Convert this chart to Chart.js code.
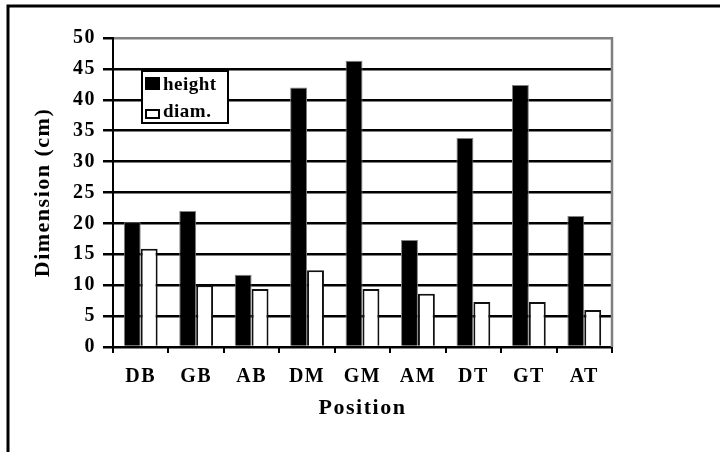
<!DOCTYPE html>
<html>
<head>
<meta charset="utf-8">
<title>Dimension by position</title>
<script src="https://cdn.jsdelivr.net/npm/chart.js@4/dist/chart.umd.min.js"></script>
<style>
  html, body { margin: 0; padding: 0; background: #fff; }
  canvas { display: block; }
</style>
</head>
<body>
<canvas id="chart" width="720" height="452"></canvas>
<script>
// Sampling positions along the stem
const positions = ['DB', 'GB', 'AB', 'DM', 'GM', 'AM', 'DT', 'GT', 'AT'];

// Measured dimensions (cm)
const heightCm = [20.2, 22.0, 11.7, 42.0, 46.3, 17.3, 33.8, 42.4, 21.2];
const diamCm   = [15.9, 10.0, 9.4, 12.4, 9.4, 8.6, 7.3, 7.3, 6.0];

// Value axis tick labels
const yTickValues = [0, 5, 10, 15, 20, 25, 30, 35, 40, 45, 50];

const SERIF = '"Liberation Serif", "Times New Roman", serif';

// Page frame, plot outline, spaced lettering and the inset legend
const framePlugin = {
  id: 'frame',
  beforeUpdate(chart) {
    chart.ctx.letterSpacing = '1.5px';
  },
  beforeDraw(chart) {
    const ctx = chart.ctx;
    ctx.letterSpacing = '1.5px';
    ctx.save();
    ctx.fillStyle = '#fff';
    ctx.fillRect(0, 0, chart.width, chart.height);
    ctx.strokeStyle = '#000';
    ctx.lineWidth = 3;
    ctx.beginPath();
    ctx.moveTo(8, chart.height + 2);
    ctx.lineTo(8, 6);
    ctx.lineTo(chart.width + 2, 6);
    ctx.stroke();
    ctx.restore();
  },
  afterDatasetsDraw(chart) {
    const ctx = chart.ctx;
    const a = chart.chartArea;
    ctx.save();
    ctx.strokeStyle = '#808080';
    ctx.lineWidth = 2.5;
    ctx.beginPath();
    ctx.moveTo(a.right, a.top - 1);
    ctx.lineTo(a.right, a.bottom);
    ctx.stroke();
    ctx.restore();
  },
  afterDraw(chart) {
    const ctx = chart.ctx;
    const a = chart.chartArea;
    const bx = a.left + 29, by = a.top + 33, bw = 86, bh = 52;
    ctx.save();
    ctx.fillStyle = '#fff';
    ctx.fillRect(bx, by, bw, bh);
    ctx.strokeStyle = '#000';
    ctx.lineWidth = 2;
    ctx.strokeRect(bx, by, bw, bh);
    ctx.font = 'bold 19px ' + SERIF;
    ctx.letterSpacing = '0.5px';
    ctx.textBaseline = 'alphabetic';
    ctx.textAlign = 'left';
    const ds = chart.data.datasets;
    // first entry: filled square
    ctx.fillStyle = ds[0].backgroundColor;
    ctx.fillRect(bx + 3, by + 6, 15, 13);
    ctx.fillStyle = '#000';
    ctx.fillText(ds[0].label, bx + 21, by + 19);
    // second entry: open box
    ctx.fillStyle = ds[1].backgroundColor;
    ctx.fillRect(bx + 4, by + 39, 13, 8);
    ctx.strokeStyle = '#000';
    ctx.lineWidth = 2;
    ctx.strokeRect(bx + 4, by + 39, 13, 8);
    ctx.fillStyle = '#000';
    ctx.fillText(ds[1].label, bx + 21, by + 46);
    ctx.restore();
  }
};

new Chart(document.getElementById('chart'), {
  type: 'bar',
  data: {
    labels: positions,
    datasets: [
      {
        label: 'height',
        data: heightCm,
        backgroundColor: '#000',
        borderColor: '#808080',
        borderWidth: 1
      },
      {
        label: 'diam.',
        data: diamCm,
        backgroundColor: '#fff',
        borderColor: '#111',
        borderWidth: 2
      }
    ]
  },
  options: {
    responsive: false,
    animation: false,
    devicePixelRatio: 1,
    events: [],
    layout: { padding: { left: 0, top: 38, right: 108, bottom: 0 } },
    datasets: {
      bar: { categoryPercentage: 0.61, barPercentage: 1.0 }
    },
    plugins: {
      legend: { display: false },
      tooltip: { enabled: false }
    },
    scales: {
      x: {
        offset: true,
        afterFit(scale) { scale.height = 105; },
        grid: {
          display: true,
          offset: true,
          drawOnChartArea: false,
          drawTicks: true,
          tickLength: 6,
          color: '#000',
          tickColor: '#000',
          lineWidth: 2
        },
        border: { display: true, color: '#000', width: 2 },
        ticks: {
          autoSkip: false,
          maxRotation: 0,
          padding: 12,
          color: '#000',
          font: { family: SERIF, size: 20, weight: 'bold' }
        },
        title: {
          display: true,
          text: 'Position',
          color: '#000',
          font: { family: SERIF, size: 22, weight: 'bold', lineHeight: 1.2 },
          padding: { top: 0, bottom: 30 }
        }
      },
      y: {
        min: yTickValues[0],
        max: yTickValues[yTickValues.length - 1],
        afterFit(scale) { scale.width = 113; },
        afterBuildTicks(scale) {
          scale.ticks = yTickValues.map(v => ({ value: v }));
        },
        grid: {
          color: ctx => (ctx.tick && ctx.tick.value === yTickValues[yTickValues.length - 1]) ? '#808080' : '#000',
          tickColor: '#000',
          lineWidth: 2.5,
          tickLength: 10,
          drawTicks: true
        },
        border: { display: true, color: '#000', width: 2 },
        ticks: {
          padding: 7,
          color: '#000',
          font: { family: SERIF, size: 20, weight: 'bold' }
        },
        title: {
          display: true,
          text: 'Dimension (cm)',
          color: '#000',
          font: { family: SERIF, size: 22, weight: 'bold', lineHeight: 1.2 },
          padding: { top: 30, bottom: 0 }
        }
      }
    }
  },
  plugins: [framePlugin]
});
</script>
</body>
</html>
